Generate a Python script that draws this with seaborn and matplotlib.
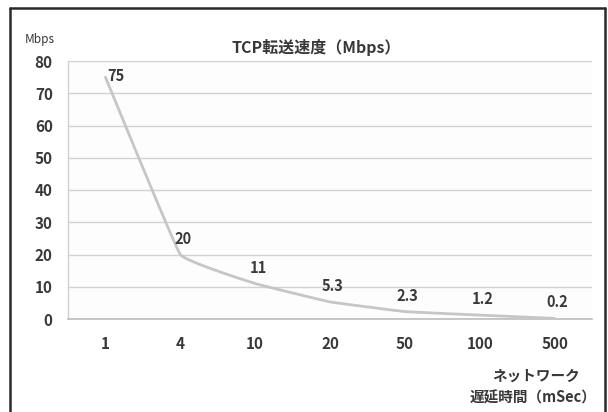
import numpy as np
import pandas as pd
import matplotlib
matplotlib.use("Agg")
import matplotlib.pyplot as plt
import seaborn as sns
from matplotlib.lines import Line2D

# Network latency (ms) categories and measured TCP throughput (Mbps)
latency_labels = ["1", "4", "10", "20", "50", "100", "500"]
throughput = [75, 20, 11, 5.3, 2.3, 1.2, 0.2]
value_labels = ["75", "20", "11", "5.3", "2.3", "1.2", "0.2"]
y_ticks = [0, 10, 20, 30, 40, 50, 60, 70, 80]

title = "TCP転送速度（Mbps）"
y_unit = "Mbps"
x_caption = ["ネットワーク", "遅延時間（mSec）"]

sns.set_theme(style="white")
plt.rcParams["font.family"] = ["Noto Sans CJK JP", "DejaVu Sans"]

TEXT = "#383838"
LINE = "#c6c6c6"
GRID = "#d2d2d2"


def smooth_curve(xs, ys, tension=1 / 6, steps=40):
    """Bezier smoothing through every point (spreadsheet-style smoothed line)."""
    pts = np.column_stack([xs, ys]).astype(float)
    n = len(pts)
    out = []
    for i in range(n - 1):
        p0 = pts[max(i - 1, 0)]
        p1 = pts[i]
        p2 = pts[i + 1]
        p3 = pts[min(i + 2, n - 1)]
        c1 = p1 + (p2 - p0) * tension
        c2 = p2 - (p3 - p1) * tension
        t = np.linspace(0, 1, steps)[:, None]
        seg = ((1 - t) ** 3) * p1 + 3 * ((1 - t) ** 2) * t * c1 \
            + 3 * (1 - t) * t ** 2 * c2 + t ** 3 * p2
        out.append(seg if i == 0 else seg[1:])
    return np.vstack(out)


xpos = np.arange(len(latency_labels))
curve = smooth_curve(xpos, throughput, tension=0.035)
df_curve = pd.DataFrame({"x": curve[:, 0], "y": curve[:, 1]})

fig = plt.figure(figsize=(6.08, 4.12), dpi=100)
fig.patch.set_facecolor("white")
ax = fig.add_axes([68 / 608, 1 - 319 / 412, (592 - 68) / 608, (319 - 61) / 412])
ax.set_facecolor("#fdfdfd")

# frame around the chart area
fx0, fx1, fy1 = 10 / 608, 605 / 608, 1 - 8 / 412
for xs_, ys_ in [([fx0, fx0], [-0.1, fy1]), ([fx0, fx1], [fy1, fy1]), ([fx1, fx1], [fy1, -0.1])]:
    fig.add_artist(Line2D(xs_, ys_, transform=fig.transFigure, color="#2a2a2a", lw=1.8))

sns.lineplot(data=df_curve, x="x", y="y", ax=ax, color=LINE, linewidth=2.0,
             sort=False, estimator=None, zorder=3)

ax.set_xlim(-0.5, len(latency_labels) - 0.5)
ax.set_ylim(0, 80)
ax.set_yticks(y_ticks)
ax.set_yticklabels([str(v) for v in y_ticks])
ax.set_xticks(xpos)
ax.set_xticklabels(latency_labels)
ax.tick_params(axis="both", length=0, labelsize=11, labelcolor=TEXT)
ax.tick_params(axis="x", pad=12)
ax.tick_params(axis="y", pad=11)
for lab in ax.get_xticklabels() + ax.get_yticklabels():
    lab.set_fontweight("bold")

ax.grid(axis="y", color=GRID, linewidth=1.0, zorder=1)
ax.set_axisbelow(True)
for side in ["top", "right"]:
    ax.spines[side].set_visible(False)
ax.spines["left"].set_color(GRID)
ax.spines["bottom"].set_color("#bdbdbd")
ax.spines["left"].set_linewidth(1.0)
ax.spines["bottom"].set_linewidth(1.2)
ax.set_xlabel("")
ax.set_ylabel("")

# value labels above each point; the top one is moved beside its point
for x, v, txt in zip(xpos, throughput, value_labels):
    if v > 70:
        ax.annotate(txt, (x, v), xytext=(1, 1), textcoords="offset points",
                    ha="left", va="center", fontsize=10.5, fontweight="bold", color=TEXT)
    else:
        ax.annotate(txt, (x, v), xytext=(2, 11.5), textcoords="offset points",
                    ha="center", va="center", fontsize=10.5, fontweight="bold", color=TEXT)

fig.text(316 / 608, 1 - 48 / 412, title, ha="center", va="center",
         fontsize=11.5, fontweight="bold", color=TEXT)
fig.text(40 / 608, 1 - 39 / 412, y_unit, ha="center", va="center",
         fontsize=8.5, color=TEXT)
fig.text(536 / 608, 1 - 376 / 412, x_caption[0], ha="center", va="center",
         fontsize=10.5, fontweight="bold", color=TEXT)
fig.text(596 / 608, 1 - 398 / 412, x_caption[1], ha="right", va="center",
         fontsize=10.5, fontweight="bold", color=TEXT)

fig.savefig("out.png", dpi=100)
